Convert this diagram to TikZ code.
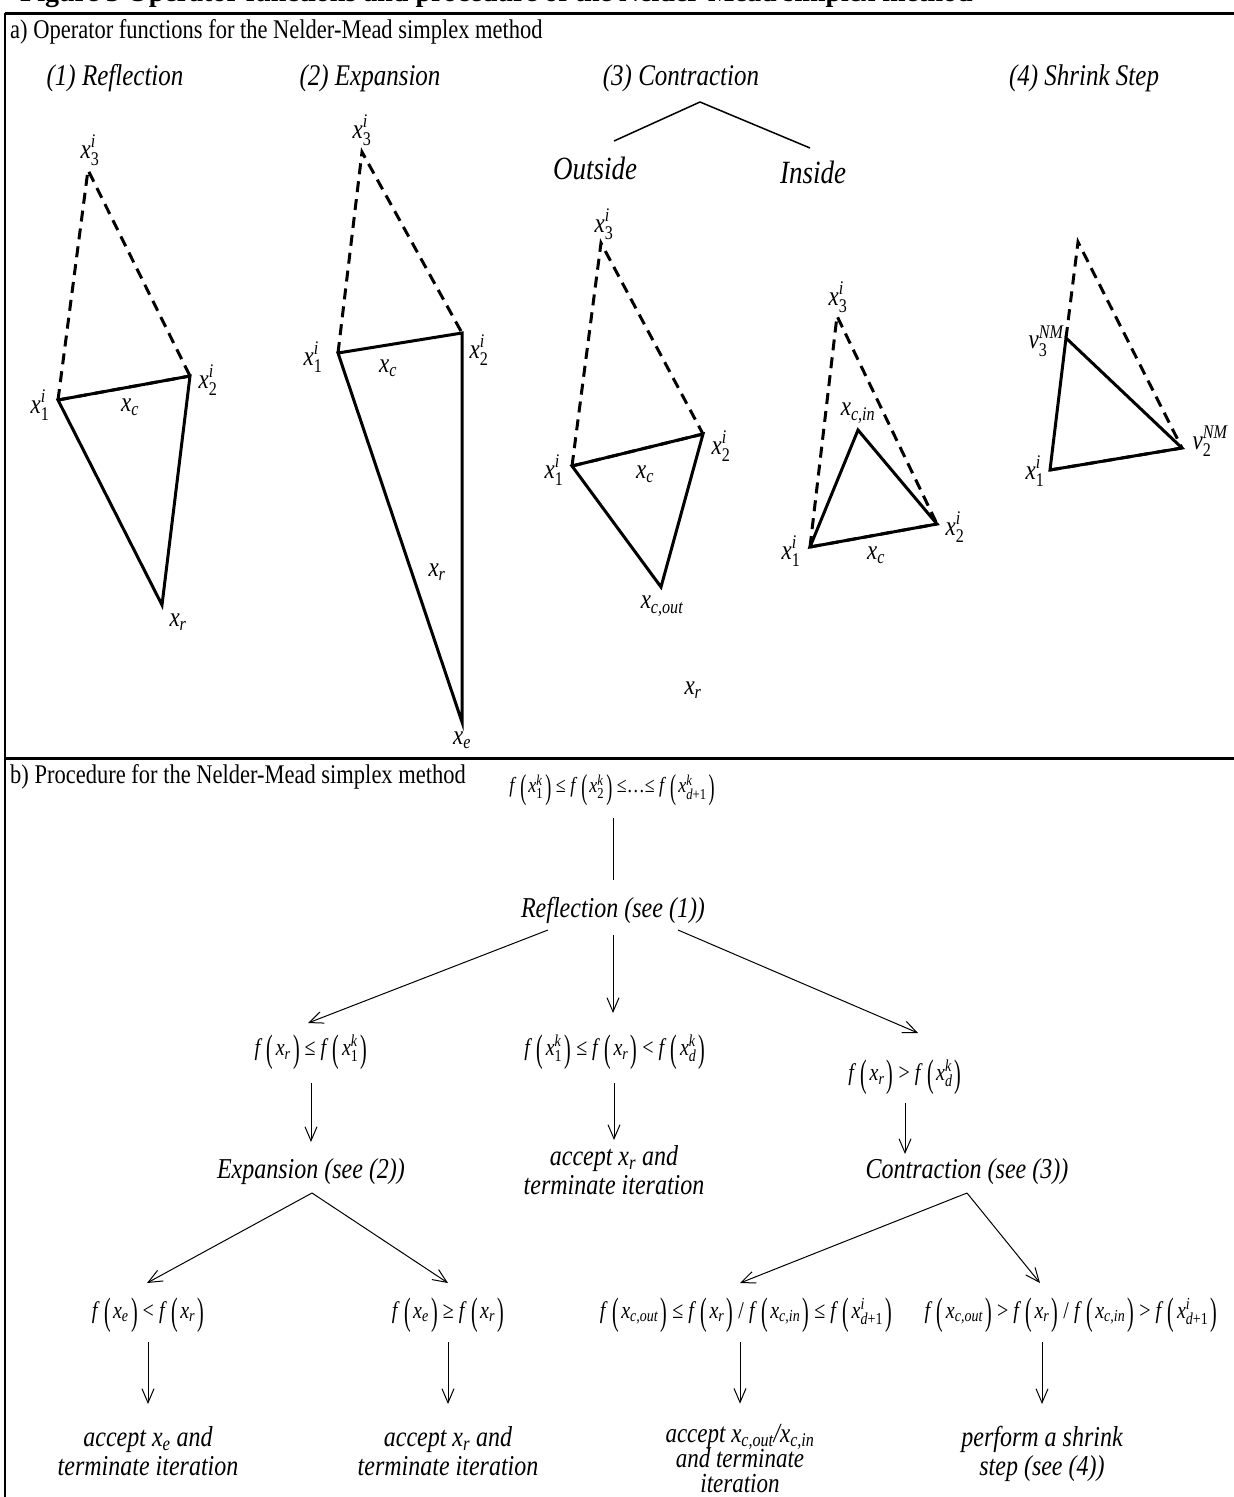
\documentclass[tikz,border=0pt]{standalone}
\usepackage{fontspec}
\setmainfont{Liberation Serif}
\usepackage{amsmath}
\usepackage{graphicx}
\usetikzlibrary{arrows.meta,calc}
\newcommand\vs[1]{\scalebox{1}[1.2]{#1}}
\newcommand\sx[3]{\ensuremath{\textit{#1}^{\textit{#2}}_{\textrm{#3}}}}
\newcommand\xs[1]{\ensuremath{\textit{x}_{\textit{#1}}}}
\newcommand\lpar{\raisebox{-0.25em}{\scalebox{1}[1.6]{(}}}
\newcommand\rpar{\raisebox{-0.25em}{\scalebox{1}[1.6]{)}}}
\newcommand\fof[1]{\textit{f}\hspace{0.22em}\lpar\hspace{0.12em}#1\hspace{0.12em}\rpar}
\newcommand\rel[1]{\hspace{0.25em}#1\hspace{0.25em}}
\newcommand\ctab[1]{\begin{tabular}{@{}c@{}}#1\end{tabular}}
\newcommand\ctabt[1]{\begin{tabular}[t]{@{}c@{}}#1\end{tabular}}
\begin{document}
\begin{tikzpicture}[x=1pt,y=-1pt,
  tri/.style={line width=3pt, line join=miter, line cap=butt},
  dsh/.style={line width=3pt, dash pattern=on 11pt off 7pt},
  lab/.style={inner sep=0pt, font=\fontsize{23}{26}\selectfont},
  head/.style={inner sep=0pt, anchor=base west, font=\fontsize{22.5}{27}\selectfont},
  optitle/.style={inner sep=0pt, font=\fontsize{25}{30}\selectfont\itshape},
  branch/.style={inner sep=0pt, font=\fontsize{27}{32}\selectfont\itshape},
  ptxt/.style={inner sep=0pt, font=\fontsize{24}{24}\selectfont\itshape},
  frm/.style={inner sep=0pt, font=\fontsize{20}{22}\selectfont},
  frm0/.style={inner sep=0pt, font=\fontsize{18}{22}\selectfont},
  arr/.style={line width=1pt, -{Straight Barb[length=14pt,width=12pt]}},
  ln/.style={line width=1pt}]
\useasboundingbox (0,0) rectangle (1234,1497);
% cut title (only its lowest part is visible)
\node[anchor=base west, inner sep=0pt, font=\fontsize{28}{32}\selectfont\bfseries] (title) at (20,1) {Figure 3 Operator functions and procedure of the Nelder-Mead simplex method};
% frame
\coordinate (TL) at (5,13); \coordinate (TR) at (1234,13);
\coordinate (ML) at (5,758); \coordinate (MR) at (1234,758);
\coordinate (BL) at (5,1497);
\draw[line width=3pt] (TL) -- (TR);
\draw[line width=2pt] (TL) -- (BL);
\draw[line width=3pt] (ML) -- (MR);
\node[head] (ha) at (10,38) {\vs{a) Operator functions for the Nelder-Mead simplex method}};
\node[head] (hb) at (10,783) {\vs{b) Procedure for the Nelder-Mead simplex method}};
% operator titles
\node[optitle] (t1) at (115,78) {\vs{(1) Reflection}};
\node[optitle] (t2) at (370,78) {\vs{(2) Expansion}};
\node[optitle] (t3) at (681,78) {\vs{(3) Contraction}};
\node[optitle] (t4) at (1084,78) {\vs{(4) Shrink Step}};
\coordinate (cA) at (700,102); \coordinate (cL) at (614,141); \coordinate (cR) at (810,148);
\draw[line width=1.5pt] (cL) -- (cA) -- (cR);
\node[branch] (outs) at (595,168) {\vs{Outside}};
\node[branch] (ins) at (813,172) {\vs{Inside}};
% (1) Reflection
\coordinate (r3) at (88,170); \coordinate (r1) at (58,400); \coordinate (r2) at (190,376); \coordinate (rr) at (162,605);
\draw[dsh] (r1) -- (r3) -- (r2);
\draw[dsh] (r1) -- (r2);
\draw[tri] (r1) -- (r2) -- (rr) -- cycle;
\node[lab] (lr3) at (90,150) {\vs{\sx{x}{i}{3}}};
\node[lab] (lr1) at (40,405) {\vs{\sx{x}{i}{1}}};
\node[lab] (lr2) at (208,380) {\vs{\sx{x}{i}{2}}};
\node[lab] (lrc) at (130,407) {\vs{\xs{c}}};
\node[lab] (lrr) at (178,622) {\vs{\xs{r}}};
% (2) Expansion
\coordinate (e3) at (362,152); \coordinate (e1) at (338,353); \coordinate (e2) at (462,333); \coordinate (ee) at (462,722);
\draw[dsh] (e1) -- (e3) -- (e2);
\draw[tri] (e1) -- (e2) -- (ee) -- cycle;
\node[lab] (le3) at (362,130) {\vs{\sx{x}{i}{3}}};
\node[lab] (le1) at (313,357) {\vs{\sx{x}{i}{1}}};
\node[lab] (le2) at (479,350) {\vs{\sx{x}{i}{2}}};
\node[lab] (lec) at (388,368) {\vs{\xs{c}}};
\node[lab] (ler) at (437,572) {\vs{\xs{r}}};
\node[lab] (lee) at (462,740) {\vs{\xs{e}}};
% (3) Outside
\coordinate (o3) at (601,243); \coordinate (o1) at (572,466); \coordinate (o2) at (703,434); \coordinate (oc) at (661,587);
\draw[dsh] (o1) -- (o3) -- (o2);
\draw[dsh] (o1) -- (o2);
\draw[tri] (o1) -- (o2) -- (oc) -- cycle;
\node[lab] (lo3) at (604,224) {\vs{\sx{x}{i}{3}}};
\node[lab] (lo1) at (554,470) {\vs{\sx{x}{i}{1}}};
\node[lab] (lo2) at (721,446) {\vs{\sx{x}{i}{2}}};
\node[lab] (loc) at (645,474) {\vs{\xs{c}}};
\node[lab] (loo) at (662,606) {\vs{\xs{c,out}}};
\node[lab] (lor) at (693,690) {\vs{\xs{r}}};
% (3) Inside
\coordinate (i3) at (837,316); \coordinate (i1) at (810,547); \coordinate (i2) at (937,524); \coordinate (ic) at (858,430);
\draw[dsh] (i1) -- (i3) -- (i2);
\draw[dsh] (i1) -- (i2);
\draw[tri] (i1) -- (i2) -- (ic) -- cycle;
\node[lab] (li3) at (838,297) {\vs{\sx{x}{i}{3}}};
\node[lab] (lic) at (858,413) {\vs{\xs{c,in}}};
\node[lab] (li1) at (791,551) {\vs{\sx{x}{i}{1}}};
\node[lab] (li2) at (955,527) {\vs{\sx{x}{i}{2}}};
\node[lab] (lixc) at (876,555) {\vs{\xs{c}}};
% (4) Shrink
\coordinate (s0) at (1078,242); \coordinate (s3) at (1066,338); \coordinate (s1) at (1050,470); \coordinate (s2) at (1182,448);
\draw[dsh] (s3) -- (s0) -- (s2);
\draw[dsh] (s1) -- (s2);
\draw[tri] (s1) -- (s2) -- (s3) -- cycle;
\node[lab] (ls3) at (1046,341) {\vs{\sx{v}{NM}{3}}};
\node[lab] (ls1) at (1035,471) {\vs{\sx{x}{i}{1}}};
\node[lab] (ls2) at (1210,441) {\vs{\sx{v}{NM}{2}}};
% ---------- part b ----------
\node[frm0] (f0) at (612,790) {\vs{\fof{\sx{x}{k}{1}}\rel{≤}\fof{\sx{x}{k}{2}}\rel{≤…≤}\fof{\sx{x}{k}{\textit{d}+1}}}};
\node[ptxt] (refl) at (613,910) {\vs{Reflection (see (1))}};
\draw[ln] ($(f0)+(1,28)$) -- ($(refl)+(0,-30)$);
\node[frm] (fA) at (311,1052) {\vs{\fof{\xs{r}}\rel{≤}\fof{\sx{x}{k}{1}}}};
\node[frm] (fB) at (615,1052) {\vs{\fof{\sx{x}{k}{1}}\rel{≤}\fof{\xs{r}}\rel{<}\fof{\sx{x}{k}{\textit{d}}}}};
\node[frm] (fC) at (905,1077) {\vs{\fof{\xs{r}}\rel{>}\fof{\sx{x}{k}{\textit{d}}}}};
\draw[arr] ($(refl)+(-65,20)$) -- ($(fA)+(-3,-29)$);
\draw[arr] ($(refl)+(0,25)$) -- ($(fB)+(-2,-39)$);
\draw[arr] ($(refl)+(65,20)$) -- ($(fC)+(13,-44)$);
\node[ptxt] (expn) at (311,1172) {\vs{Expansion (see (2))}};
\node[ptxt] (accr) at (614,1174) {\vs{\ctab{accept \xs{r} and\\terminate iteration}}};
\node[ptxt] (contr) at (967,1172) {\vs{Contraction (see (3))}};
\draw[arr] ($(fA)+(0,31)$) -- ($(expn)+(0,-30)$);
\draw[arr] ($(fB)+(-1,31)$) -- ($(accr)+(0,-34)$);
\draw[arr] ($(fC)+(0,26)$) -- ($(contr)+(-62,-18)$);
\node[frm] (fE1) at (148,1315) {\vs{\fof{\xs{e}}\rel{<}\fof{\xs{r}}}};
\node[frm] (fE2) at (448,1315) {\vs{\fof{\xs{e}}\rel{≥}\fof{\xs{r}}}};
\node[frm] (fC1) at (746,1315) {\vs{\fof{\xs{c,out}}\rel{≤}\fof{\xs{r}}\rel{/}\fof{\xs{c,in}}\rel{≤}\fof{\sx{x}{i}{\textit{d}+1}}}};
\node[frm] (fC2) at (1071,1315) {\vs{\fof{\xs{c,out}}\rel{>}\fof{\xs{r}}\rel{/}\fof{\xs{c,in}}\rel{>}\fof{\sx{x}{i}{\textit{d}+1}}}};
\draw[arr] ($(expn)+(1,21)$) -- ($(fE1)+(-1,-32)$);
\draw[arr] ($(expn)+(1,21)$) -- ($(fE2)+(0,-32)$);
\draw[arr] ($(contr)+(0,21)$) -- ($(fC1)+(-6,-32)$);
\draw[arr] ($(contr)+(0,21)$) -- ($(fC2)+(-31,-32)$);
\node[ptxt] (a1) at (148,1455) {\vs{\ctab{accept \xs{e} and\\terminate iteration}}};
\node[ptxt] (a2) at (448,1455) {\vs{\ctab{accept \xs{r} and\\terminate iteration}}};
\node[ptxt, anchor=base, font=\fontsize{23}{24}\selectfont\itshape] (a3) at (740,1442) {\vs{\ctabt{accept \xs{c,out}/\xs{c,in}\\[-3pt]and terminate\\[-3pt]iteration}}};
\node[ptxt] (a4) at (1042,1455) {\vs{\ctab{perform a shrink\\step (see (4))}}};
\draw[arr] ($(fE1)+(0,27)$) -- ($(a1)+(0,-51)$);
\draw[arr] ($(fE2)+(0,27)$) -- ($(a2)+(0,-51)$);
\draw[arr] ($(fC1)+(-6,27)$) -- ($(a3.north)+(0,-18)$);
\draw[arr] ($(fC2)+(-29,27)$) -- ($(a4)+(0,-51)$);
\end{tikzpicture}
\end{document}
